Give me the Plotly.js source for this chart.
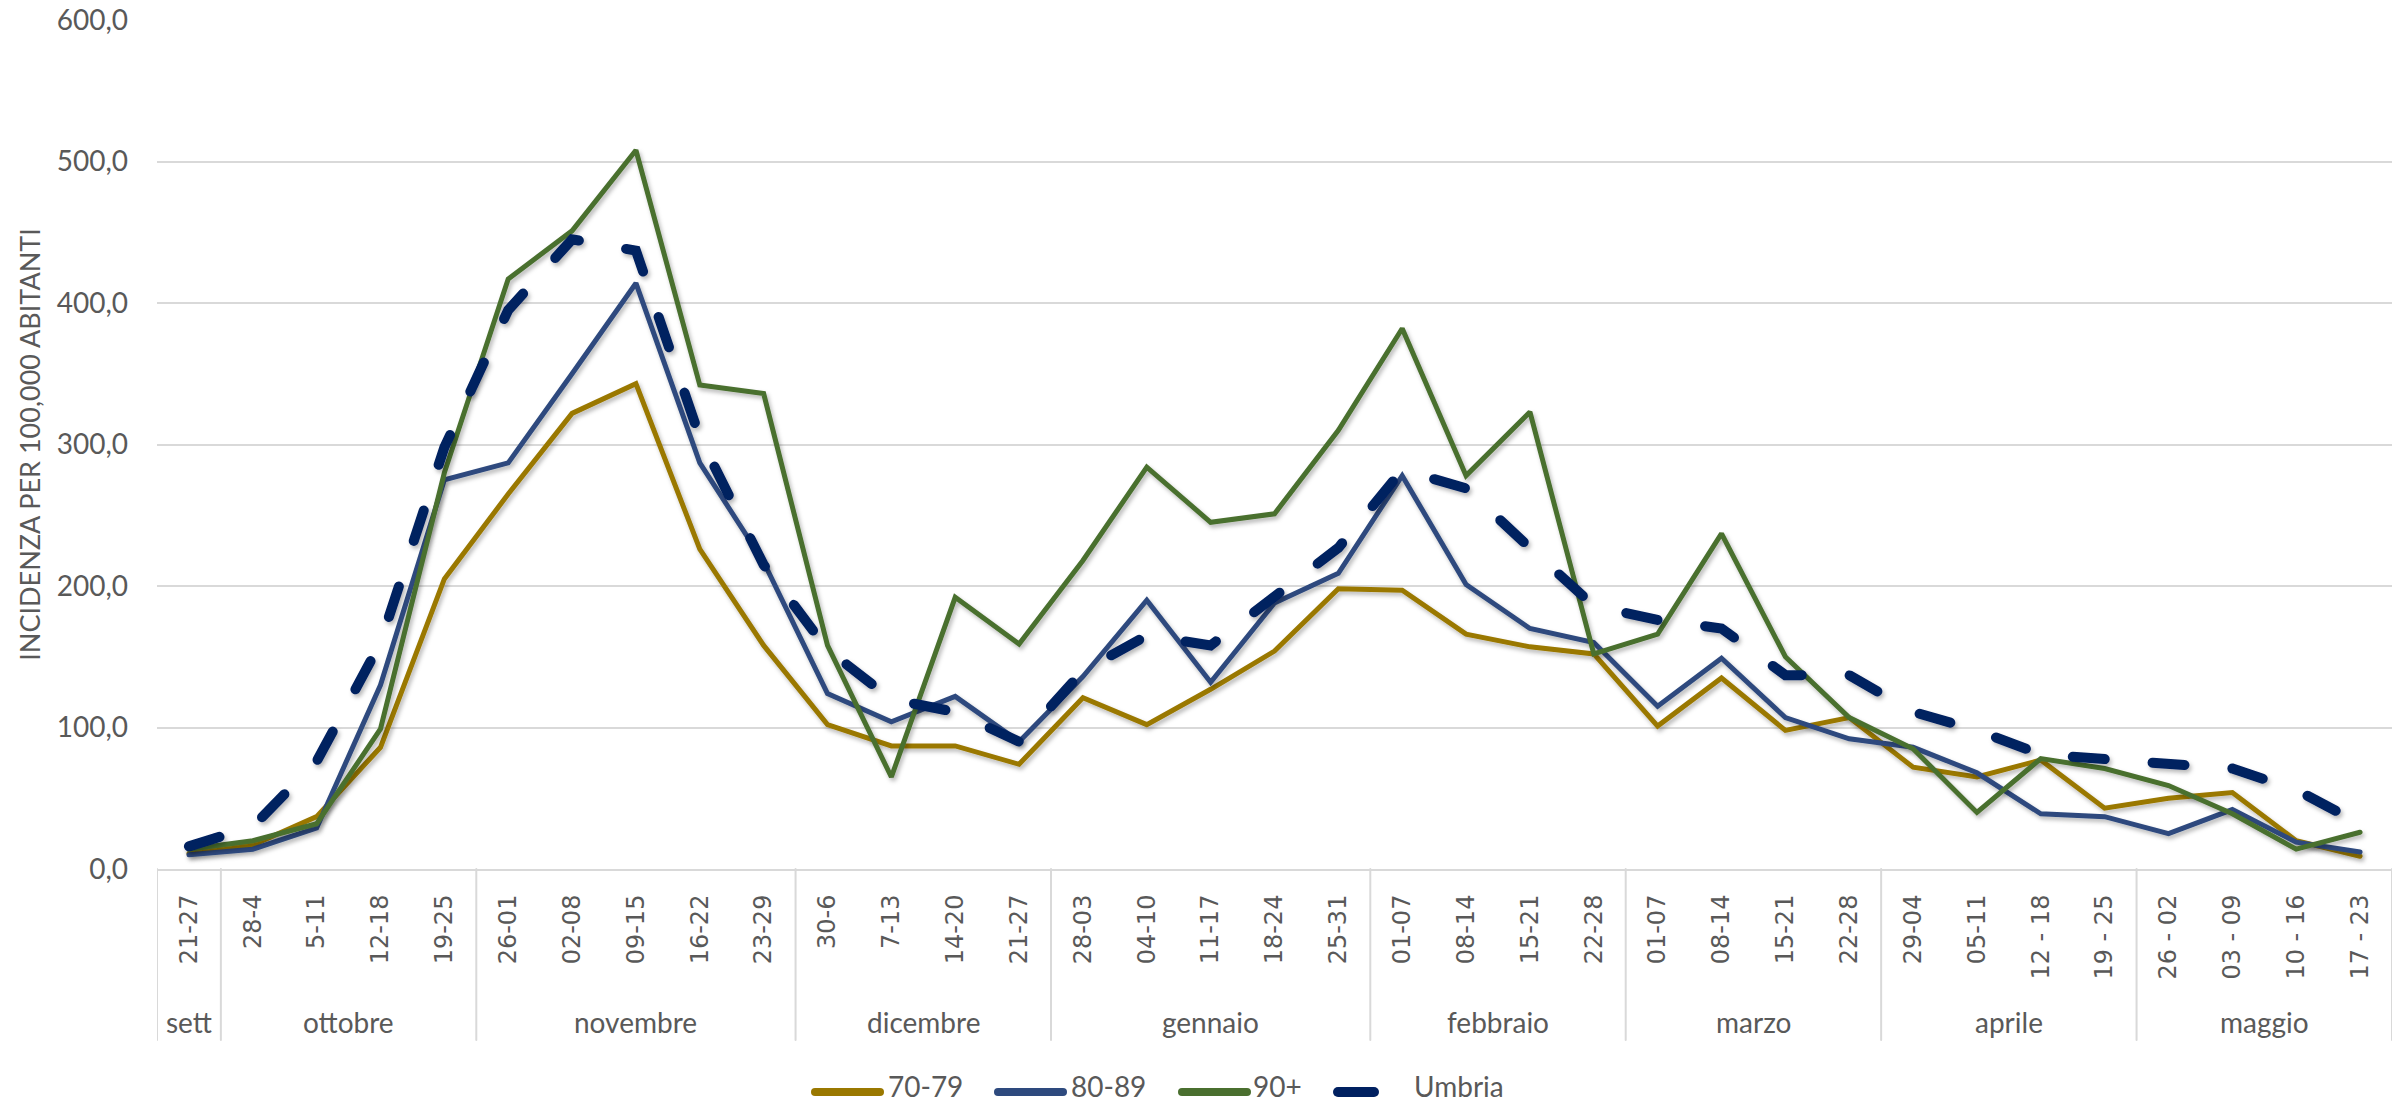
<!DOCTYPE html>
<html>
<head>
<meta charset="utf-8">
<script src="https://cdn.plot.ly/plotly-3.0.1.min.js"></script>
<style>
html,body{margin:0;padding:0;background:#ffffff;}
#chart{width:2402px;height:1108px;}
.scatterlayer .js-line{stroke-linecap:round;filter:url(#lineShadow);}
.shapelayer path{stroke-linecap:round;}
</style>
</head>
<body>
<svg width="0" height="0" style="position:absolute">
  <defs>
    <filter id="lineShadow" x="-5%" y="-5%" width="110%" height="115%">
      <feDropShadow dx="2" dy="3" stdDeviation="2" flood-color="#000000" flood-opacity="0.28"/>
    </filter>
  </defs>
</svg>
<div id="chart"></div>
<script>
// ---- DATA ----
const weeks = ['21-27','28-4','5-11','12-18','19-25','26-01','02-08','09-15','16-22','23-29',
  '30-6','7-13','14-20','21-27','28-03','04-10','11-17','18-24','25-31','01-07','08-14','15-21','22-28',
  '01-07','08-14','15-21','22-28','29-04','05-11','12 - 18','19 - 25','26 - 02','03 - 09','10 - 16','17 - 23'];
const monthNames = ['sett','ottobre','novembre','dicembre','gennaio','febbraio','marzo','aprile','maggio'];
const weeksPerMonth = [1,4,5,4,5,4,4,4,4];

const seriesNames = ['70-79','80-89','90+','Umbria'];
const val7079 = [11,17,37,86,205,265,322,343,226,158,102,87,87,74,121,102,127,154,198,197,166,157,152,101,135,98,107,72,65,77,43,50,54,20,9];
const val8089 = [10,14,29,130,275,287,350,414,287,217,124,104,122,90,136,190,132,188,209,278,201,170,160,115,149,107,92,86,68,39,37,25,42,19,12];
const val90 = [14,20,32,99,280,417,451,508,342,336,158,65,192,159,218,284,245,251,310,382,278,323,152,166,237,150,107,85,40,78,71,59,39,14,26];
const valUmbria = [16,30,76,160,298,395,445,437,305,215,155,120,111,90,140,165,158,193,227,282,269,227,186,176,170,137,137,111,98,81,78,74,71,56,32];

// ---- STYLE ----
const colors = ['#9A7800','#2E4A7E','#4A6F2F','#002060'];
const textColor = '#595959';
const gridColor = '#D9D9D9';
const mainFont = 'Lato, "Open Sans", sans-serif';
const weekFont = '"DejaVu Sans", sans-serif';

const W = 2402, H = 1108;
const M = {l:157, r:10, t:20, b:239};
const plotW = W - M.l - M.r, plotH = H - M.t - M.b;
const px2x = p => (p - M.l) / plotW;
const px2y = p => (H - M.b - p) / plotH;

const idx = weeks.map((_, i) => i);
const allVals = [val7079, val8089, val90, valUmbria];

const traces = allVals.map((v, k) => ({
  type: 'scatter', mode: 'lines', name: seriesNames[k],
  x: idx, y: v, showlegend: false, hoverinfo: 'skip',
  line: k === 3
    ? {color: colors[k], width: 10, dash: '32px,48px'}
    : {color: colors[k], width: 5}
}));

// month groups: dividers and labels
const shapes = [];
const annotations = [];
const divBottom = px2y(1040);
let start = 0;
shapes.push({type:'line', xref:'x', yref:'paper', x0:-0.5, x1:-0.5, y0:0, y1:divBottom,
  line:{color:gridColor, width:2}});
weeksPerMonth.forEach((n, m) => {
  const end = start + n;
  shapes.push({type:'line', xref:'x', yref:'paper', x0:end-0.5, x1:end-0.5, y0:0, y1:divBottom,
    line:{color:gridColor, width:2}});
  annotations.push({xref:'x', yref:'paper', x:(start + end - 1)/2, y:px2y(1022),
    text: monthNames[m], showarrow:false, xanchor:'center', yanchor:'middle',
    font:{family:mainFont, size:28, color:textColor}});
  start = end;
});

// legend (custom, Excel-like long symbols)
const legLineStart = [811, 994, 1178, 1333];
const legLineLen = [73, 73, 73, 46];
const legTextX = [887, 1070, 1252, 1413];
const legLineY = px2y(1092);
const legTextY = px2y(1086);
seriesNames.forEach((nm, k) => {
  const w = k === 3 ? 10 : 8;
  shapes.push({type:'line', xref:'paper', yref:'paper',
    x0:px2x(legLineStart[k] + w/2), x1:px2x(legLineStart[k] + legLineLen[k] - w/2),
    y0:legLineY, y1:legLineY, line:{color:colors[k], width:w}});
  annotations.push({xref:'paper', yref:'paper', x:px2x(legTextX[k]), y:legTextY,
    text:nm, showarrow:false, xanchor:'left', yanchor:'middle', borderpad:0,
    font:{family:mainFont, size:28, color:textColor}});
});

const layout = {
  width: W, height: H,
  margin: {l:M.l, r:M.r, t:M.t, b:M.b, pad:0},
  paper_bgcolor:'#ffffff', plot_bgcolor:'#ffffff',
  separators: ',.',
  showlegend: false,
  xaxis: {
    range:[-0.5, weeks.length - 0.5],
    tickmode:'array', tickvals: idx, ticktext: weeks,
    tickangle: -90, ticks:'', ticklabelstandoff: 14,
    tickfont:{family:weekFont, size:24, color:textColor},
    showgrid:false, zeroline:false,
    showline:true, linecolor:gridColor, linewidth:2,
    fixedrange:true
  },
  yaxis: {
    range:[0, 600], dtick:100, tick0:0, tickformat:'.1f',
    ticks:'', ticklabelstandoff: 28,
    tickfont:{family:mainFont, size:28, color:textColor},
    showgrid:true, gridcolor:gridColor, gridwidth:2,
    zeroline:false, showline:false,
    title:{text:'INCIDENZA PER 100,000 ABITANTI', standoff:8,
      font:{family:mainFont, size:27, color:textColor}},
    fixedrange:true
  },
  shapes: shapes,
  annotations: annotations
};

Plotly.newPlot('chart', traces, layout, {staticPlot:true, displayModeBar:false});
</script>
</body>
</html>
